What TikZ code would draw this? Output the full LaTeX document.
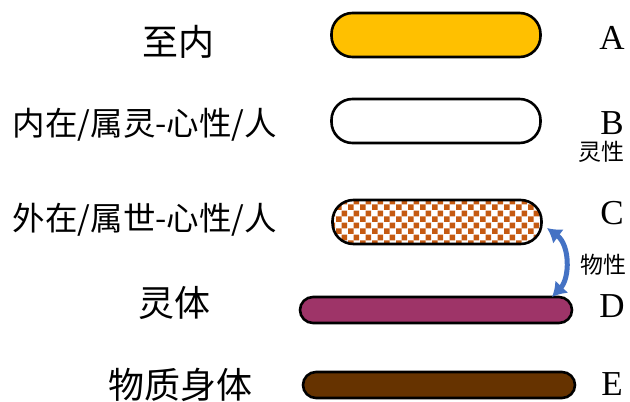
\documentclass[tikz,border=0pt]{standalone}
\usepackage{fontspec}
\setmainfont{Liberation Serif}
\newfontfamily\cjk{Noto Sans CJK SC}
\usetikzlibrary{arrows.meta,patterns.meta}
\definecolor{gold}{RGB}{255,192,0}
\definecolor{checkbrown}{RGB}{197,90,17}
\definecolor{plum}{RGB}{158,52,104}
\definecolor{earth}{RGB}{102,51,0}
\definecolor{arrowblue}{RGB}{68,114,196}
\tikzdeclarepattern{
  name=checks, type=uncolored,
  bottom left={(0pt,0pt)}, top right={(12pt,12pt)},
  tile size={(12pt,12pt)},
  code={\fill (0pt,0pt) rectangle (6pt,6pt); \fill (6pt,6pt) rectangle (12pt,12pt);}
}
\tikzset{
  pill/.style={draw, line width=2.6pt, rectangle, inner sep=0pt},
  bigpill/.style={pill, minimum width=209pt, minimum height=44pt, rounded corners=21pt},
  flatpill/.style={pill, minimum width=272pt, minimum height=26pt, rounded corners=13pt},
  biglabel/.style={font=\cjk\fontsize{36}{36}\selectfont},
  longlabel/.style={font=\cjk\fontsize{32.5}{32.5}\selectfont},
  smalllabel/.style={font=\cjk\fontsize{23}{23}\selectfont},
  letter/.style={inner sep=0pt, font=\fontsize{35}{35}\selectfont}
}
\begin{document}
\begin{tikzpicture}[x=1pt,y=-1pt]
	\useasboundingbox[fill=white] (0,0) rectangle (630,402);
	\node[bigpill, fill=gold] (A) at (436,35) {};
	\node[bigpill, fill=white] (B) at (436,121) {};
	\node[bigpill, pattern=checks, pattern color=checkbrown] (C) at (437,222) {};
	\node[flatpill, fill=plum] (D) at (436,310) {};
	\node[flatpill, fill=earth] (E) at (439,385) {};

	\node[biglabel] (tA) at (178,42) {至内};
	\node[longlabel] (tB) at (145,125) {内在/属灵-心性/人};
	\node[longlabel] (tC) at (145,220) {外在/属世-心性/人};
	\node[biglabel] (tD) at (174,303) {灵体};
	\node[biglabel] (tE) at (180,385) {物质身体};

	\node[letter] (lA) at (612,38) {A};
	\node[letter] (lB) at (612,123) {B};
	\node[letter] (lC) at (612,213) {C};
	\node[letter] (lD) at (612,306) {D};
	\node[letter] (lE) at (612,384) {E};
	\node[smalllabel] (sB) at (601,152) {灵性};
	\node[smalllabel] (sC) at (603,265) {物性};

	\coordinate (ctip) at (547,228);
	\coordinate (dtip) at (552,297);
	\path[draw=arrowblue, line width=5pt, {Latex[length=14pt,width=18pt]}-{Latex[length=14pt,width=18pt]}]
		(ctip) .. controls (570,245) and (570,278) .. (dtip);
\end{tikzpicture}
\end{document}
